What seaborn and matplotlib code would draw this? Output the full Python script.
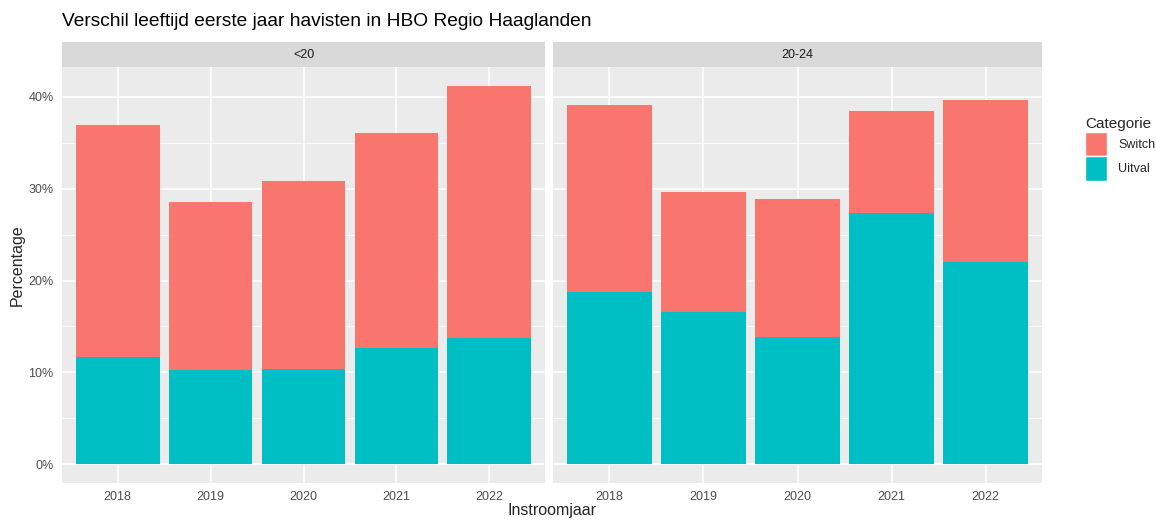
import matplotlib
matplotlib.use("Agg")
import matplotlib.pyplot as plt
from matplotlib.patches import Patch
from matplotlib.ticker import PercentFormatter, MultipleLocator
import pandas as pd
import seaborn as sns

# data (percentages)
years = ['2018', '2019', '2020', '2021', '2022']
groups = ['<20', '20-24']
uitval_lt20 = [11.7, 10.2, 10.4, 12.7, 13.7]
switch_lt20 = [25.2, 18.4, 20.4, 23.4, 27.5]
uitval_2024 = [18.8, 16.6, 13.8, 27.3, 22.0]
switch_2024 = [20.3, 13.0, 15.1, 11.2, 17.7]

title = 'Verschil leeftijd eerste jaar havisten in HBO Regio Haaglanden'
col_switch = '#F8766D'
col_uitval = '#00BFC4'

frames = []
for grp, uit, sw in [('<20', uitval_lt20, switch_lt20), ('20-24', uitval_2024, switch_2024)]:
    frames.append(pd.DataFrame({'Leeftijd': grp, 'Instroomjaar': years,
                                'Uitval': uit, 'Switch': sw}))
df = pd.concat(frames, ignore_index=True)
df['Totaal'] = df['Uitval'] + df['Switch']

sns.set_theme(style='darkgrid')
plt.rcParams['font.family'] = ['Liberation Sans', 'DejaVu Sans']

fig = plt.figure(figsize=(11.56, 5.2), dpi=100)
W, H = 1156, 520
panels = [(62, 545), (553, 1042)]
top, bottom = 67, 483
ymax = df['Totaal'].max()
pad = ymax * 0.05

for i, (grp, (x0, x1)) in enumerate(zip(groups, panels)):
    ax = fig.add_axes([x0 / W, 1 - bottom / H, (x1 - x0) / W, (bottom - top) / H])
    sub = df[df['Leeftijd'] == grp]
    ax.set_facecolor('#EBEBEB')
    # stacked: total (switch on top) first, uitval drawn over it
    sns.barplot(data=sub, x='Instroomjaar', y='Totaal', color=col_switch,
                saturation=1, width=0.9, ax=ax, errorbar=None, zorder=3)
    sns.barplot(data=sub, x='Instroomjaar', y='Uitval', color=col_uitval,
                saturation=1, width=0.9, ax=ax, errorbar=None, zorder=3)
    for p in ax.patches:
        p.set_linewidth(0)
    ax.set_xlim(-0.6, 4.6)
    ax.set_ylim(-pad, ymax + pad)
    ax.yaxis.set_major_locator(MultipleLocator(10))
    ax.yaxis.set_minor_locator(MultipleLocator(5))
    ax.yaxis.set_major_formatter(PercentFormatter(decimals=0))
    ax.grid(which='major', color='white', linewidth=1.1, zorder=0)
    ax.grid(which='minor', axis='y', color='white', linewidth=0.55, zorder=0)
    ax.set_axisbelow(True)
    for s in ax.spines.values():
        s.set_visible(False)
    ax.tick_params(axis='both', which='major', length=3, width=0.8, color='#333333',
                   labelsize=9, labelcolor='#4D4D4D', pad=3)
    ax.tick_params(axis='y', which='minor', length=0)
    ax.set_xlabel('')
    ax.set_ylabel('')
    if i > 0:
        ax.tick_params(axis='y', which='major', length=0, labelleft=False)
    # facet strip
    sax = fig.add_axes([x0 / W, 1 - top / H, (x1 - x0) / W, 25 / H])
    sax.set_facecolor('#D9D9D9')
    sax.set_xticks([])
    sax.set_yticks([])
    for s in sax.spines.values():
        s.set_visible(False)
    sax.text(0.5, 0.5, grp, ha='center', va='center', fontsize=9, color='#1A1A1A',
             transform=sax.transAxes)

fig.text(62 / W, 1 - 22 / H, title, ha='left', va='center', fontsize=13.8, color='black')
fig.text(17 / W, 1 - 265 / H, 'Percentage', rotation=90, ha='center', va='center', fontsize=11.5)
fig.text(552 / W, 1 - 510 / H, 'Instroomjaar', ha='center', va='center', fontsize=11.5)

handles = [Patch(facecolor=col_switch, label='Switch'), Patch(facecolor=col_uitval, label='Uitval')]
leg = fig.legend(handles=handles, title='Categorie', loc='upper left',
                 bbox_to_anchor=(1085 / W, 1 - 117 / H), frameon=False, fontsize=9,
                 title_fontsize=11, handlelength=1.75, handleheight=2.6, handletextpad=0.9,
                 labelspacing=0.05, borderpad=0, borderaxespad=0, alignment='left')

fig.savefig('out.png', dpi=100, facecolor='white')
